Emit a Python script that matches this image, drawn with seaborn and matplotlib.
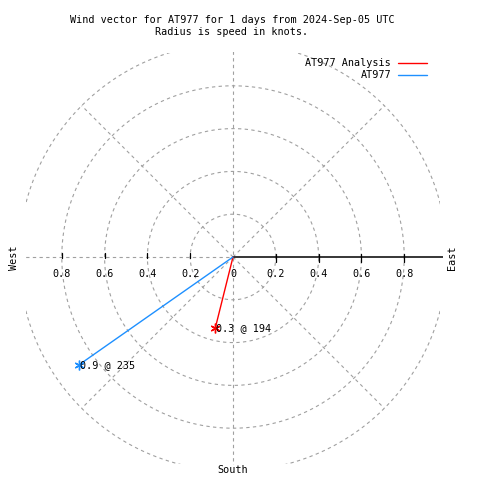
import numpy as np
import pandas as pd
import matplotlib
matplotlib.use("Agg")
import matplotlib.pyplot as plt
import matplotlib.patches as mpatches
import seaborn as sns

# ---- data ----
series = ["AT977 Analysis", "AT977"]
speeds = [0.34, 0.88]          # knots
directions = [194, 235]        # degrees (compass)
labels = ["0.3 @ 194", "0.9 @ 235"]
colors = ["#ff0000", "#1e90ff"]
ring_radii = [0.2, 0.4, 0.6, 0.8, 1.0]
spoke_angles = [45, 135, 225, 315]
tick_vals = [0.2, 0.4, 0.6, 0.8]
tick_labels = ["0.2", "0.4", "0.6", "0.8"]
title = "Wind vector for AT977 for 1 days from 2024-Sep-05 UTC\nRadius is speed in knots."

sns.set_style("white")
plt.rcParams['font.family'] = ['DejaVu Sans Mono']
plt.rcParams['text.color'] = 'black'
FS = 7.3

W = H = 480
fig = plt.figure(figsize=(4.8, 4.8), dpi=100)
cx, cy, scale = 233, 257, 214.0
x0, x1, y0, y1 = 25, 443, 52, 465
ax = fig.add_axes([x0 / W, 1 - y1 / H, (x1 - x0) / W, (y1 - y0) / H])
ax.set_xlim((x0 - cx) / scale, (x1 - cx) / scale)
ax.set_ylim((cy - y1) / scale, (cy - y0) / scale)
ax.axis("off")

grid_kw = dict(color="#a0a0a0", lw=0.8, ls=(0, (3, 3)), zorder=1)
clip_box = mpatches.Rectangle((-0.965, -0.967), 1.93, 1.92, transform=ax.transData,
                              fill=False, visible=False)
ax.add_patch(clip_box)
th = np.linspace(0, 2 * np.pi, 600)
for r in ring_radii:
    ln, = ax.plot(r * np.cos(th), r * np.sin(th), **grid_kw)
    ln.set_clip_path(clip_box)
for a in spoke_angles:
    t = np.deg2rad(a)
    ax.plot([0, np.cos(t)], [0, np.sin(t)], **grid_kw)
ax.plot([0, 0], [-1.2, 1.2], **grid_kw)
ax.plot([-1.2, 0], [0, 0], **grid_kw)

# positive x axis
ax.plot([0, 0.98], [0, 0], color="black", lw=1.1, zorder=2)
for v in tick_vals:
    ax.plot([v, v], [-0.025, 0.015], color="black", lw=0.9, zorder=2)
    ax.plot([-v, -v], [-0.005, 0.018], color="black", lw=0.9, zorder=2)

for v, lab in zip(tick_vals, tick_labels):
    ax.text(v, -0.08, lab, ha="center", va="center", fontsize=FS, clip_on=False)
    ax.text(-v, -0.08, lab, ha="center", va="center", fontsize=FS, clip_on=False)
ax.text(0, -0.08, "0", ha="center", va="center", fontsize=FS, clip_on=False)

# vectors
rows = []
for s, sp, d in zip(series, speeds, directions):
    t = np.deg2rad(d)
    rows.append({"series": s, "x": 0.0, "y": 0.0, "pt": 0})
    rows.append({"series": s, "x": sp * np.sin(t), "y": sp * np.cos(t), "pt": 1})
df = pd.DataFrame(rows)
sns.lineplot(data=df, x="x", y="y", hue="series", units="series", estimator=None,
             sort=False, palette=dict(zip(series, colors)), lw=1.0, legend=False, ax=ax, zorder=3)
ends = df[df.pt == 1]
for (_, row), c, lab in zip(ends.iterrows(), colors, labels):
    ax.plot(row.x, row.y, marker=(6, 2, 0), color=c, ms=7, mew=1.0, zorder=4)
    ax.text(row.x + 0.005, row.y, lab, ha="left", va="center", fontsize=FS, zorder=5)

# axis direction labels
fig.text(14 / W, 1 - 258 / H, "West", rotation=90, ha="center", va="center", fontsize=FS)
fig.text(452 / W, 1 - 258 / H, "East", rotation=90, ha="center", va="center", fontsize=FS)
fig.text(233 / W, 1 - 470 / H, "South", ha="center", va="center", fontsize=FS)

# title
fig.text(232 / W, 1 - 26 / H, title, ha="center", va="center", fontsize=FS, linespacing=1.25)

# legend
for i, (s, c) in enumerate(zip(series, colors)):
    yy = 1 - (63 + 12 * i) / H
    fig.text(391 / W, yy, s, ha="right", va="center", fontsize=FS)
    fig.add_artist(plt.Line2D([398 / W, 427 / W], [yy, yy], color=c, lw=1.0))

fig.savefig("out.png", dpi=100)
